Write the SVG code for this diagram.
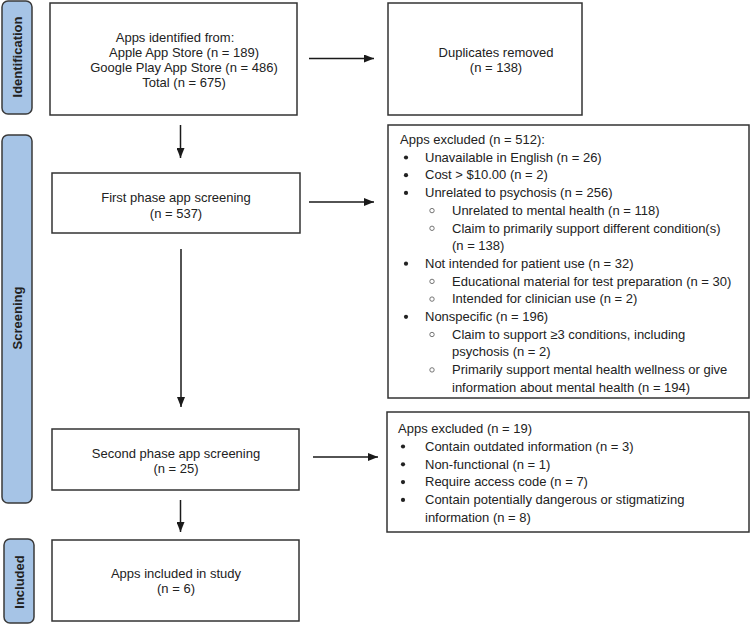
<svg xmlns="http://www.w3.org/2000/svg" width="751" height="625" viewBox="0 0 751 625">
<defs>
<marker id="ah" markerWidth="10" markerHeight="8" refX="10" refY="4" orient="auto" markerUnits="userSpaceOnUse">
<path d="M0,0 L10,4 L0,8 Z" fill="#1a1a1a"/>
</marker>
<style>
.box{fill:#fff;stroke:#333;stroke-width:1.5}
.lab{fill:#a6c4e6;stroke:#3a3a3a;stroke-width:1.5}
.t{font-family:"Liberation Sans",Arial,sans-serif;font-size:13px;fill:#222}
.c{text-anchor:middle}
.v{font-family:"Liberation Sans",Arial,sans-serif;font-size:13px;font-weight:bold;fill:#222;text-anchor:middle}
.b{fill:#222}
.o{fill:none;stroke:#666;stroke-width:0.9}
.con{stroke:#1a1a1a;stroke-width:1.5;fill:none;marker-end:url(#ah)}
</style>
</defs>
<rect width="751" height="625" fill="#fff"/>

<g id="label-identification">
<rect class="lab" x="2" y="1" width="30" height="113" rx="6"/>
<text class="v" transform="translate(21.5,57) rotate(-90)">Identification</text>
</g>
<g id="label-screening">
<rect class="lab" x="2" y="135" width="30" height="368" rx="6"/>
<text class="v" transform="translate(21.5,318) rotate(-90)">Screening</text>
</g>
<g id="label-included">
<rect class="lab" x="4" y="539" width="30" height="84" rx="6"/>
<text class="v" transform="translate(23.5,582) rotate(-90)">Included</text>
</g>

<g id="identified">
<rect class="box" x="50" y="3" width="247" height="112"/>
<text class="t c" x="175" y="42">Apps identified from:</text>
<text class="t c" x="184" y="57">Apple App Store (n = 189)</text>
<text class="t c" x="184" y="72">Google Play App Store (n = 486)</text>
<text class="t c" x="184" y="87">Total (n = 675)</text>
</g>

<g id="duplicates">
<rect class="box" x="388" y="3" width="194" height="112"/>
<text class="t c" x="496" y="57">Duplicates removed</text>
<text class="t c" x="496" y="72">(n = 138)</text>
</g>

<g id="first-phase">
<rect class="box" x="52" y="173" width="248" height="60"/>
<text class="t c" x="176" y="202">First phase app screening</text>
<text class="t c" x="176" y="218">(n = 537)</text>
</g>

<g id="excluded-1">
<rect class="box" x="388" y="125" width="361" height="273"/>
<text class="t" x="400" y="144">Apps excluded (n = 512):</text>
<circle class="b" cx="406" cy="157.5" r="2.1"/>
<text class="t" x="425" y="161.7">Unavailable in English (n = 26)</text>
<circle class="b" cx="406" cy="175.2" r="2.1"/>
<text class="t" x="425" y="179.4">Cost &gt; $10.00 (n = 2)</text>
<circle class="b" cx="406" cy="192.9" r="2.1"/>
<text class="t" x="425" y="197.1">Unrelated to psychosis (n = 256)</text>
<circle class="o" cx="432" cy="210.6" r="2.2"/>
<text class="t" x="452" y="214.8">Unrelated to mental health (n = 118)</text>
<circle class="o" cx="432" cy="228.3" r="2.2"/>
<text class="t" x="452" y="232.5">Claim to primarily support different condition(s)</text>
<text class="t" x="452" y="250.2">(n = 138)</text>
<circle class="b" cx="406" cy="263.7" r="2.1"/>
<text class="t" x="425" y="267.9">Not intended for patient use (n = 32)</text>
<circle class="o" cx="432" cy="281.4" r="2.2"/>
<text class="t" x="452" y="285.6">Educational material for test preparation (n = 30)</text>
<circle class="o" cx="432" cy="299.1" r="2.2"/>
<text class="t" x="452" y="303.3">Intended for clinician use (n = 2)</text>
<circle class="b" cx="406" cy="316.8" r="2.1"/>
<text class="t" x="425" y="321">Nonspecific (n = 196)</text>
<circle class="o" cx="432" cy="334.5" r="2.2"/>
<text class="t" x="452" y="338.7">Claim to support ≥3 conditions, including</text>
<text class="t" x="452" y="356.4">psychosis (n = 2)</text>
<circle class="o" cx="432" cy="369.9" r="2.2"/>
<text class="t" x="452" y="374.1">Primarily support mental health wellness or give</text>
<text class="t" x="452" y="391.8">information about mental health (n = 194)</text>
</g>

<g id="second-phase">
<rect class="box" x="52" y="429" width="247" height="61"/>
<text class="t c" x="176" y="458">Second phase app screening</text>
<text class="t c" x="176" y="473">(n = 25)</text>
</g>

<g id="excluded-2">
<rect class="box" x="387" y="412" width="362" height="120"/>
<text class="t" x="398" y="433">Apps excluded (n = 19)</text>
<circle class="b" cx="403" cy="446.5" r="2.1"/>
<text class="t" x="425" y="450.8">Contain outdated information (n = 3)</text>
<circle class="b" cx="403" cy="464.3" r="2.1"/>
<text class="t" x="425" y="468.6">Non-functional (n = 1)</text>
<circle class="b" cx="403" cy="482.1" r="2.1"/>
<text class="t" x="425" y="486.4">Require access code (n = 7)</text>
<circle class="b" cx="403" cy="499.9" r="2.1"/>
<text class="t" x="425" y="504.2">Contain potentially dangerous or stigmatizing</text>
<text class="t" x="425" y="522">information (n = 8)</text>
</g>

<g id="included">
<rect class="box" x="52" y="540" width="247" height="81"/>
<text class="t c" x="176" y="578">Apps included in study</text>
<text class="t c" x="176" y="593">(n = 6)</text>
</g>

<g id="connectors">
<line class="con" x1="309" y1="58.5" x2="374" y2="58.5"/>
<line class="con" x1="180.5" y1="125" x2="180.5" y2="158"/>
<line class="con" x1="309" y1="202" x2="374" y2="202"/>
<line class="con" x1="181" y1="249" x2="181" y2="407"/>
<line class="con" x1="313" y1="457" x2="378" y2="457"/>
<line class="con" x1="180.5" y1="500" x2="180.5" y2="532"/>
</g>
</svg>
